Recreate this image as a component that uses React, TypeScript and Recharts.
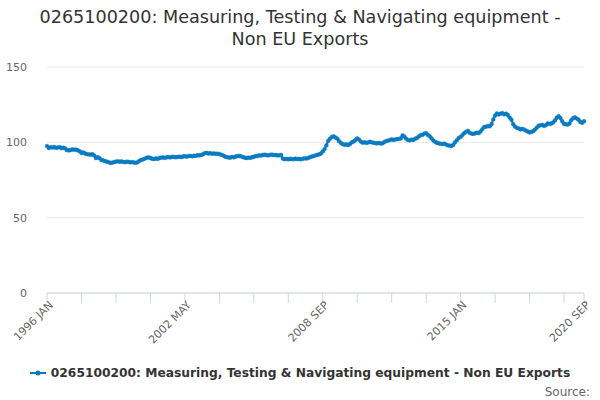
import React from 'react';
import { LineChart, Line, XAxis, YAxis, CartesianGrid } from 'recharts';

const TITLE_LINE_1 = '0265100200: Measuring, Testing & Navigating equipment -';
const TITLE_LINE_2 = 'Non EU Exports';
const SERIES_NAME = '0265100200: Measuring, Testing & Navigating equipment - Non EU Exports';
const START_YEAR = 1996;
const MONTHS = ['JAN', 'FEB', 'MAR', 'APR', 'MAY', 'JUN', 'JUL', 'AUG', 'SEP', 'OCT', 'NOV', 'DEC'];

const v1996 = [97.5, 96.2, 96.8, 96.5, 96.9, 96.3, 96.6, 96.8, 96.1, 96.4, 96.0, 94.8];
const v1997 = [94.6, 94.9, 95.3, 95.1, 95.2, 94.7, 94.1, 92.9, 93.3, 92.6, 92.2, 92.0];
const v1998 = [91.8, 92.1, 91.4, 89.6, 90.2, 89.4, 88.3, 88.0, 87.5, 87.2, 86.8, 86.3];
const v1999 = [86.5, 86.9, 87.2, 87.4, 87.1, 87.3, 87.0, 86.8, 87.2, 87.0, 86.7, 86.9];
const v2000 = [86.6, 86.4, 86.8, 87.8, 88.3, 88.7, 89.2, 89.8, 90.0, 89.6, 89.1, 88.9];
const v2001 = [89.3, 89.0, 89.6, 89.8, 90.0, 89.7, 90.1, 90.2, 90.0, 90.4, 90.3, 90.1];
const v2002 = [90.3, 90.5, 90.2, 90.6, 90.8, 90.5, 90.9, 91.0, 90.7, 91.1, 91.0, 91.5];
const v2003 = [91.3, 91.6, 92.1, 92.8, 93.0, 92.6, 92.9, 92.4, 92.7, 92.3, 92.5, 92.2];
const v2004 = [91.8, 91.3, 90.6, 90.2, 90.0, 89.8, 90.3, 90.1, 90.6, 90.9, 91.0, 90.7];
const v2005 = [90.2, 89.8, 89.6, 89.9, 89.7, 90.1, 90.4, 90.8, 91.0, 91.4, 91.2, 91.6];
const v2006 = [91.8, 91.5, 91.3, 91.7, 91.9, 91.5, 91.6, 91.3, 91.4, 91.6, 89.2, 88.8];
const v2007 = [89.0, 88.7, 89.1, 88.9, 88.8, 89.2, 88.9, 89.0, 88.7, 89.1, 89.4, 89.3];
const v2008 = [89.6, 90.2, 90.6, 90.9, 91.3, 91.7, 92.0, 92.6, 94.0, 95.5, 98.0, 101.0];
const v2009 = [102.4, 103.6, 104.0, 103.2, 102.5, 100.8, 99.6, 98.8, 98.4, 98.6, 98.2, 98.9];
const v2010 = [100.0, 100.6, 101.5, 102.6, 101.8, 100.5, 99.8, 100.1, 99.6, 99.9, 100.4, 100.0];
const v2011 = [99.7, 99.5, 99.3, 99.6, 99.2, 99.4, 100.3, 100.8, 101.2, 101.5, 102.0, 101.6];
const v2012 = [101.9, 102.1, 102.3, 102.6, 104.6, 103.8, 102.4, 101.5, 101.3, 101.8, 101.6, 102.4];
const v2013 = [103.0, 103.9, 104.8, 105.0, 105.8, 106.1, 104.9, 104.0, 102.6, 101.2, 100.3, 99.6];
const v2014 = [99.3, 99.0, 98.9, 99.1, 98.5, 98.0, 97.8, 97.6, 98.4, 100.2, 101.5, 103.0];
const v2015 = [103.6, 104.8, 106.1, 107.0, 107.6, 106.3, 105.8, 105.6, 106.0, 106.4, 106.2, 107.2];
const v2016 = [108.8, 110.2, 110.4, 110.8, 110.6, 112.0, 115.2, 117.8, 119.2, 118.5, 119.0, 119.4];
const v2017 = [118.6, 119.1, 118.2, 116.5, 115.0, 112.0, 110.4, 109.6, 109.2, 108.6, 108.9, 108.5];
const v2018 = [107.8, 107.2, 106.6, 106.9, 107.4, 108.5, 109.8, 111.0, 111.3, 111.6, 110.9, 111.4];
const v2019 = [112.6, 112.2, 112.5, 113.2, 114.6, 116.3, 117.4, 116.2, 114.0, 112.3, 112.0, 111.8];
const v2020 = [112.5, 114.8, 116.0, 116.6, 115.8, 115.0, 113.5, 113.0, 114.0];

const yearly = [v1996, v1997, v1998, v1999, v2000, v2001, v2002, v2003, v2004, v2005, v2006, v2007,
  v2008, v2009, v2010, v2011, v2012, v2013, v2014, v2015, v2016, v2017, v2018, v2019, v2020];

const values: number[] = yearly.flat();
const categories: string[] = values.map((_, i) => `${START_YEAR + Math.floor(i / 12)} ${MONTHS[i % 12]}`);

const X_TICKS = [0, 19, 38, 57, 76, 95, 114, 133, 152, 171, 190, 209, 228, 247, 266, 285, 296];
const X_LABELED = [0, 76, 152, 228, 296];
const Y_TICKS = [0, 50, 100, 150];

const data = values.map((v, i) => ({ idx: i, label: categories[i], value: v }));

const COLOR = '#0a7bc2';
const FONT = '"DejaVu Sans", sans-serif';

const XTick = (props: any) => {
  const { x, y, payload } = props;
  if (!X_LABELED.includes(payload.value)) return null;
  return (
    <text
      transform={`translate(${x + 4}, ${y - 2}) rotate(-45)`}
      textAnchor="end"
      fontSize={11}
      fill="#666666"
      fontFamily={FONT}
      dy="0.35em"
    >
      {categories[payload.value]}
    </text>
  );
};

export default function App() {
  return (
    <div style={{ position: 'absolute', left: 0, top: 0, width: 600, height: 400, background: '#fff', fontFamily: FONT }}>
      <div style={{ position: 'absolute', top: 6, left: 0, width: 600, textAlign: 'center', fontSize: 17.6, lineHeight: '22px', color: '#333333' }}>
        <div>{TITLE_LINE_1}</div>
        <div>{TITLE_LINE_2}</div>
      </div>
      <LineChart width={600} height={400} data={data} margin={{ top: 67, right: 16, left: 0, bottom: 0 }}>
        <CartesianGrid vertical={false} stroke="#e6e6e6" />
        <XAxis
          dataKey="idx"
          type="number"
          domain={[0, 296]}
          ticks={X_TICKS}
          interval={0}
          height={107}
          tickSize={10}
          tickLine={{ stroke: '#ccd6eb' }}
          axisLine={{ stroke: '#ccd6eb' }}
          tick={<XTick />}
        />
        <YAxis
          domain={[0, 150]}
          ticks={Y_TICKS}
          width={47}
          axisLine={false}
          tickLine={false}
          tickMargin={14}
          tick={{ fontSize: 11, fill: '#666666', fontFamily: FONT }}
        />
        <Line
          type="linear"
          dataKey="value"
          stroke={COLOR}
          strokeWidth={2.2}
          dot={{ r: 1.9, fill: COLOR, stroke: COLOR, strokeWidth: 0.5 }}
          isAnimationActive={false}
        />
      </LineChart>
      <div style={{ position: 'absolute', top: 365, left: 0, width: 600, textAlign: 'center', fontSize: 12.25, fontWeight: 'bold', color: '#333333', whiteSpace: 'nowrap' }}>
        <svg width={16} height={10} style={{ verticalAlign: 'middle', marginRight: 5 }}>
          <line x1={0} y1={5} x2={16} y2={5} stroke={COLOR} strokeWidth={2} />
          <circle cx={8} cy={5} r={2.5} fill={COLOR} />
        </svg>
        <span style={{ verticalAlign: 'middle' }}>{SERIES_NAME}</span>
      </div>
      <div style={{ position: 'absolute', top: 385, right: 10, fontSize: 12, color: '#666666' }}>Source:</div>
    </div>
  );
}
